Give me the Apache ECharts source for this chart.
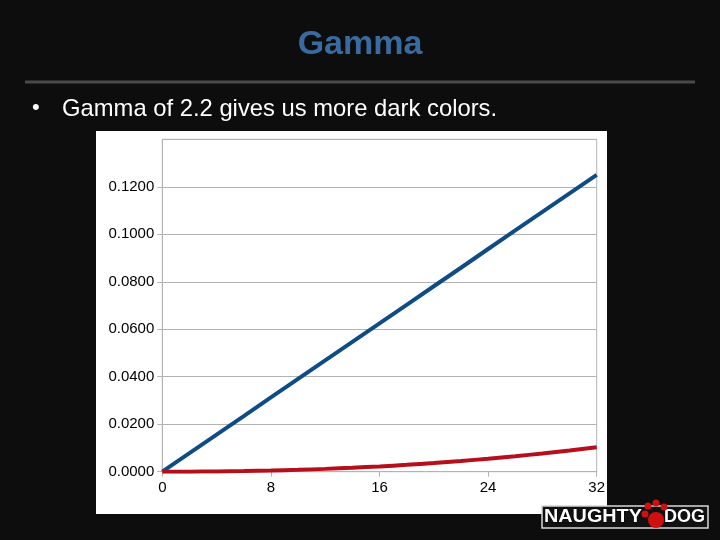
<!DOCTYPE html>
<html><head><meta charset="utf-8">
<script src="https://cdn.jsdelivr.net/npm/echarts@6/dist/echarts.min.js"></script>
<style>html,body{margin:0;padding:0;background:#0d0d0d;}#c{width:720px;height:540px;}</style>
</head><body><div id="c"></div>
<script>
var xValues = [0,2,4,6,8,10,12,14,16,18,20,22,24,26,28,30,32];
var linearValues = [0,0.0078,0.0156,0.0234,0.0313,0.0391,0.0469,0.0547,0.0625,0.0703,0.0781,0.0859,0.0938,0.1016,0.1094,0.1172,0.1250];
var gammaValues = [0,0.00002,0.00011,0.00026,0.00049,0.00080,0.00119,0.00167,0.00224,0.00291,0.00367,0.00452,0.00548,0.00653,0.00768,0.00894,0.01031];
var xTicks = [0,8,16,24,32];
var yTicks = [0,0.02,0.04,0.06,0.08,0.10,0.12];

var chart = echarts.init(document.getElementById('c'), null, {renderer:'canvas'});
function pairs(ys){ return xValues.map(function(x,i){ return [x, ys[i]]; }); }
var font = '"Liberation Sans", Arial, sans-serif';
chart.setOption({
  backgroundColor: '#0d0d0d',
  animation: false,
  grid: {left:162.3, right:123.3, top:139.3, bottom:68.3, show:true, borderColor:'#b3b3b3', borderWidth:1, backgroundColor:'#ffffff'},
  xAxis: {
    type:'value', min:0, max:32, interval:8,
    axisLine:{show:true, onZero:false, lineStyle:{color:'#b3b3b3', width:1}},
    axisTick:{show:true, length:5, lineStyle:{color:'#b3b3b3'}},
    splitLine:{show:false},
    axisLabel:{color:'#000', fontFamily:font, fontSize:15, margin:9,
      formatter:function(v){ return xTicks.indexOf(v) >= 0 ? String(v) : ''; }}
  },
  yAxis: {
    type:'value', min:0, max:0.14, interval:0.02,
    axisLine:{show:true, lineStyle:{color:'#b3b3b3', width:1}},
    axisTick:{show:true, length:5, lineStyle:{color:'#b3b3b3'}},
    splitLine:{show:true, lineStyle:{color:'#b3b3b3', width:1}},
    axisLabel:{color:'#000', fontFamily:font, fontSize:15, margin:8, showMaxLabel:false,
      formatter:function(v){
        for (var i=0;i<yTicks.length;i++){ if (Math.abs(yTicks[i]-v)<1e-9) return yTicks[i].toFixed(4); }
        return '';
      }}
  },
  series: [
    {type:'line', data:pairs(linearValues), showSymbol:false, lineStyle:{color:'#0f4c85', width:4}, z:3},
    {type:'line', data:pairs(gammaValues), showSymbol:false, smooth:true, lineStyle:{color:'#b50f1c', width:4}, z:3}
  ],
  graphic: [
    {type:'rect', z:-10, shape:{x:96, y:131, width:511, height:383}, style:{fill:'#ffffff'}, silent:true},
    {type:'text', left:'center', top:28, style:{text:'Gamma', fill:'#3a6ba0', font:'bold 34px "Liberation Sans", Arial, sans-serif'}},
    {type:'rect', shape:{x:25, y:80.5, width:670, height:3}, style:{fill:'#4a4a4a'}},
    {type:'text', x:32, y:97, style:{text:'•', fill:'#ffffff', font:'22px "Liberation Sans", Arial, sans-serif'}},
    {type:'text', x:62, y:97, style:{text:'Gamma of 2.2 gives us more dark colors.', fill:'#ffffff', font:'23.8px "Liberation Sans", Arial, sans-serif'}},
    {type:'rect', shape:{x:542, y:506, width:166, height:22}, style:{fill:'#111', stroke:'#d8d8d8', lineWidth:1.5}},
    {type:'text', x:544, y:508, scaleX:1.1, style:{text:'NAUGHTY', fill:'#ffffff', stroke:'#000', lineWidth:0.8, font:'900 18px "Liberation Sans", Arial, sans-serif'}},
    {type:'text', x:664, y:508, style:{text:'DOG', fill:'#ffffff', stroke:'#000', lineWidth:0.8, font:'900 18px "Liberation Sans", Arial, sans-serif'}},
    {type:'circle', shape:{cx:656, cy:520, r:8}, style:{fill:'#d01010'}},
    {type:'circle', shape:{cx:645, cy:514, r:3.5}, style:{fill:'#d01010'}},
    {type:'circle', shape:{cx:648, cy:506, r:3.5}, style:{fill:'#d01010'}},
    {type:'circle', shape:{cx:656, cy:503, r:3.5}, style:{fill:'#d01010'}},
    {type:'circle', shape:{cx:664, cy:507, r:3.5}, style:{fill:'#d01010'}}
  ]
});
</script></body></html>
